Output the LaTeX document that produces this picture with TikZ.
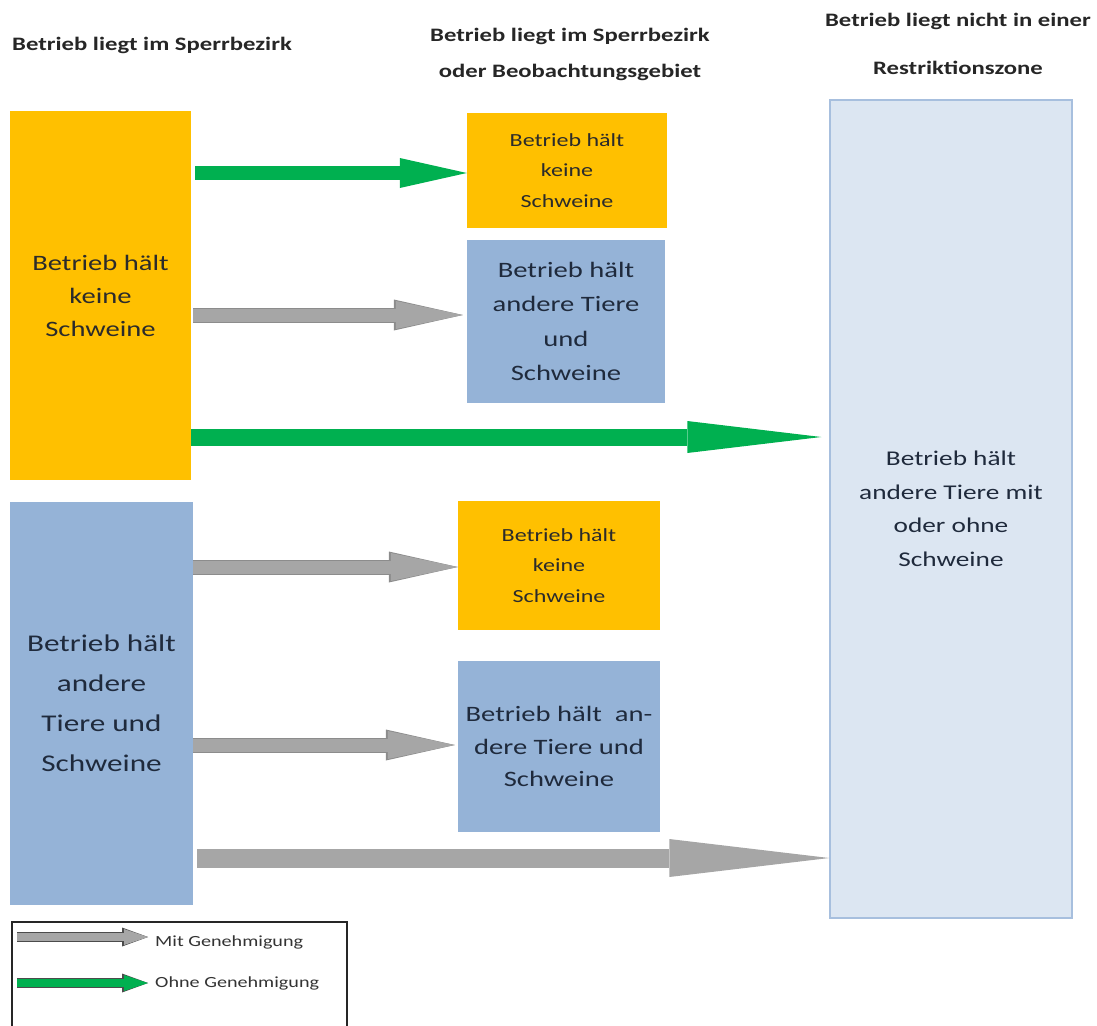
\documentclass[tikz,border=0pt]{standalone}
\usepackage{fontspec}
\setmainfont{Carlito}[FakeStretch=1.3]
\usepackage{tikz}
\usetikzlibrary{arrows.meta,positioning}

\definecolor{boxorange}{HTML}{FFC000}
\definecolor{boxblue}{HTML}{95B3D7}
\definecolor{zonefill}{HTML}{DCE6F2}
\definecolor{zoneline}{HTML}{A7BFDE}
\definecolor{arrgreen}{HTML}{00B050}
\definecolor{arrgray}{HTML}{A6A6A6}
\definecolor{arrgrayline}{HTML}{8C8C8C}
\definecolor{txtdark}{HTML}{2B2B2B}
\definecolor{txtblue}{HTML}{1F2A3C}

\newcommand{\fs}[2]{\fontsize{#1}{#2}\selectfont}

\begin{document}
\begin{tikzpicture}[x=1pt, y=-1pt]
\tikzstyle{every node} = [inner sep=0pt, align=center]
\tikzstyle{orangebox} = [rectangle, fill=boxorange, text=txtdark]
\tikzstyle{bluebox} = [rectangle, fill=boxblue, text=txtblue]
\tikzstyle{heading} = [font=\bfseries\fs{19}{24}, text=black!85]
\tikzstyle{greenarr} = [draw=arrgreen, line width=14pt, -{Triangle[length=67pt, width=30pt, line width=0pt]}]
\tikzstyle{grayarr} = [draw=arrgray, line width=13pt, -{Triangle[length=67pt, width=28pt, line width=0pt]},
  preaction={draw=arrgrayline, line width=15pt, -{Triangle[length=69pt, width=31pt, line width=0pt]}}]
\useasboundingbox (0,0) rectangle (1097,1025);

% headings
\node[heading, anchor=west] (h1) at (12,45) {Betrieb liegt im Sperrbezirk};
\node[heading] (h2) at (570,54) {Betrieb liegt im Sperrbezirk\\[12pt]oder Beobachtungsgebiet};
\node[heading] (h3) at (958,44) {Betrieb liegt nicht in einer\\[24pt]Restriktionszone};

% left column
\node[orangebox, minimum width=181, minimum height=369, font=\fs{22}{33}] (lo) at (100.5,295.5)
  {Betrieb hält\\keine\\Schweine};
\node[bluebox, minimum width=183, minimum height=403, font=\fs{24}{40}] (lb) at (101.5,703.5)
  {Betrieb hält\\andere\\Tiere und\\Schweine};

% middle column
\node[orangebox, minimum width=200, minimum height=115, font=\fs{18.5}{30.5}] (ob1) at (567,170.5)
  {Betrieb hält\\keine\\Schweine};
\node[bluebox, minimum width=198, minimum height=163, font=\fs{22}{34.5}] (mb1) at (566,321.5)
  {Betrieb hält\\andere Tiere\\und\\Schweine};
\node[orangebox, minimum width=202, minimum height=129, font=\fs{18.5}{30.5}] (ob2) at (559,565.5)
  {Betrieb hält\\keine\\Schweine};
\node[bluebox, minimum width=202, minimum height=171, font=\fs{22}{32.5}] (mb2) at (559,746.5)
  {Betrieb hält\ \ an-\\dere Tiere und\\Schweine};

% right column
\node[rectangle, fill=zonefill, draw=zoneline, line width=1.5pt, text=txtblue,
  minimum width=242, minimum height=818, font=\fs{21}{33.5}] (rz) at (951,509)
  {Betrieb hält\\andere Tiere mit\\oder ohne\\Schweine};

% arrows
\coordinate (a1) at (195,173);
\coordinate (a2) at (193,315);
\coordinate (a3) at (191,437);
\coordinate (a4) at (193,567);
\coordinate (a5) at (193,745);
\coordinate (a6) at (197,858);
\draw[greenarr] (a1) -- (a1 -| ob1.west);
\draw[grayarr] (a2) -- ([xshift=-4pt]a2 -| mb1.west);
\draw[greenarr, line width=17pt, -{Triangle[length=134pt, width=32pt, line width=0pt]}] (a3) -- ([xshift=-8pt]a3 -| rz.west);
\draw[grayarr] (a4) -- (a4 -| ob2.west);
\draw[grayarr] (a5) -- ([xshift=-3pt]a5 -| mb2.west);
\draw[draw=arrgray, line width=19pt, -{Triangle[length=160pt, width=38pt, line width=0pt]}] (a6) -- (a6 -| rz.west);

% legend
\draw[line width=2pt, black!85] (12,1035) |- (347,922) -- (347,1035);
\coordinate (l1) at (17,937);
\coordinate (l2) at (17,983);
\node[anchor=west, font=\fs{15.5}{18}, text=black!80] (lt1) at (155,942) {Mit Genehmigung};
\node[anchor=west, font=\fs{15.5}{18}, text=black!80] (lt2) at (155,983) {Ohne Genehmigung};
\draw[draw=arrgray, line width=8pt, -{Triangle[length=24pt, width=16pt, line width=0pt]},
  preaction={draw=black!70, line width=10pt, -{Triangle[length=26pt, width=19pt, line width=0pt]}}] (l1) -- (148,937);
\draw[draw=arrgreen, line width=8pt, -{Triangle[length=24pt, width=16pt, line width=0pt]},
  preaction={draw=black!70, line width=10pt, -{Triangle[length=26pt, width=19pt, line width=0pt]}}] (l2) -- (148,983);
\end{tikzpicture}
\end{document}
